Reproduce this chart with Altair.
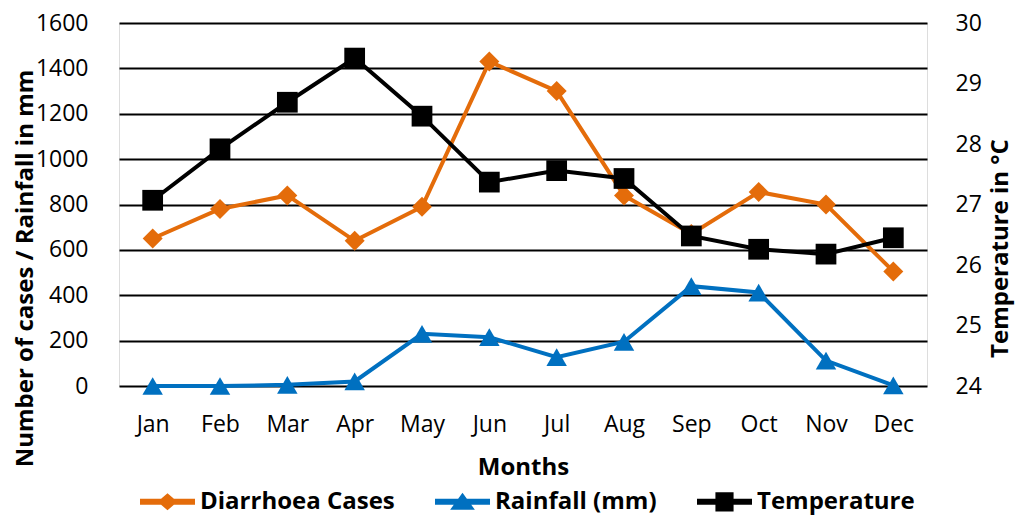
import altair as alt
import pandas as pd

months = ["Jan", "Feb", "Mar", "Apr", "May", "Jun", "Jul", "Aug", "Sep", "Oct", "Nov", "Dec"]
diarrhoea = [650, 780, 840, 640, 790, 1430, 1300, 840, 670, 855, 800, 505]
rainfall = [0, 0, 5, 20, 230, 215, 127, 195, 440, 412, 112, 3]
temperature = [27.07, 27.92, 28.69, 29.42, 28.46, 27.37, 27.56, 27.43, 26.48, 26.26, 26.18, 26.45]

series_names = ["Diarrhoea Cases", "Rainfall (mm)", "Temperature"]
series_colors = ["#E46C0A", "#0070C0", "#000000"]
left_ticks = [0, 200, 400, 600, 800, 1000, 1200, 1400, 1600]
right_ticks = [24, 25, 26, 27, 28, 29, 30]

# legend symbols: a line with the series marker on it
legend_paths = [
    "M-1,-0.11L1,-0.11L1,0.11L-1,0.11Z M0,-0.31L0.36,0L0,0.31L-0.36,0Z",
    "M-1,-0.11L1,-0.11L1,0.11L-1,0.11Z M0,-0.33L0.45,0.29L-0.45,0.29Z",
    "M-1,-0.11L1,-0.11L1,0.11L-1,0.11Z M-0.33,-0.35L0.33,-0.35L0.33,0.35L-0.33,0.35Z",
]

df_d = pd.DataFrame({"month": months, "value": diarrhoea})
df_r = pd.DataFrame({"month": months, "value": rainfall})
df_t = pd.DataFrame({"month": months, "temp": temperature})
df_leg = pd.DataFrame({"month": months[:3], "value": [0, 0, 0], "series": series_names})

FONT = "Open Sans"
TICK = 23
TITLE = 24

x_enc = alt.X(
    "month:O",
    sort=months,
    scale=alt.Scale(domain=months, padding=0.5),
    axis=alt.Axis(
        title="Months", labelAngle=0, ticks=False, domain=False, labelPadding=27,
        labelFontSize=TICK, labelColor="#000", titleFontSize=TITLE, titleFontWeight="bold",
        titleColor="#000", titlePadding=19, labelFont=FONT, titleFont=FONT,
    ),
)

y_left = alt.Y(
    "value:Q",
    scale=alt.Scale(domain=[0, 1600], nice=False, zero=True),
    axis=alt.Axis(
        values=left_ticks, format="d", title="Number of cases / Rainfall in mm", grid=True,
        gridColor="#000", gridWidth=1.8, domain=False, ticks=False, labelPadding=31,
        labelFontSize=TICK, labelColor="#000", titleFontSize=TITLE, titleFontWeight="bold",
        titleColor="#000", titleX=-87, titleY=245, titleBaseline="alphabetic",
        labelFont=FONT, titleFont=FONT,
    ),
)

y_right = alt.Y(
    "temp:Q",
    scale=alt.Scale(domain=[24, 30], nice=False, zero=False),
    axis=alt.Axis(
        orient="right", values=right_ticks, format="d", title="Temperature in °C", grid=False,
        domain=False, ticks=False, labelPadding=28, labelFontSize=TICK, labelColor="#000",
        titleFontSize=TITLE, titleFontWeight="bold", titleColor="#000", titleAngle=270,
        titleX=80, titleY=225, titleBaseline="alphabetic", labelFont=FONT, titleFont=FONT,
    ),
)

legend_def = alt.Legend(
    title=None, orient="none", legendX=21, legendY=451, direction="horizontal", columns=3,
    labelFontSize=24, labelFontWeight="bold", labelColor="#000", labelFont=FONT, labelLimit=400,
    symbolSize=3025, symbolStrokeWidth=0, labelOffset=5, columnPadding=40,
)

d_line = alt.Chart(df_d).mark_line(color=series_colors[0], strokeWidth=4).encode(x=x_enc, y=y_left)
d_pts = alt.Chart(df_d).mark_point(shape="diamond", filled=True, size=400, opacity=1,
                                   color=series_colors[0]).encode(x=x_enc, y=y_left)
r_line = alt.Chart(df_r).mark_line(color=series_colors[1], strokeWidth=4).encode(x=x_enc, y=y_left)
r_pts = alt.Chart(df_r).mark_point(shape="triangle-up", filled=True, size=420, opacity=1,
                                   color=series_colors[1]).encode(x=x_enc, y=y_left)
leg = alt.Chart(df_leg).transform_filter("false").mark_point(filled=True, opacity=1, strokeWidth=0).encode(
    x=x_enc, y=y_left,
    color=alt.Color("series:N", scale=alt.Scale(domain=series_names, range=series_colors), legend=legend_def),
    shape=alt.Shape("series:N", scale=alt.Scale(domain=series_names, range=legend_paths), legend=legend_def),
)

t_line = alt.Chart(df_t).mark_line(color=series_colors[2], strokeWidth=4).encode(x=x_enc, y=y_right)
t_pts = alt.Chart(df_t).mark_point(shape="square", filled=True, size=430, opacity=1,
                                   color=series_colors[2]).encode(x=x_enc, y=y_right)

left = alt.layer(d_line, d_pts, r_line, r_pts, leg)
right = alt.layer(t_line, t_pts)

chart = alt.layer(left, right).resolve_scale(y="independent").properties(
    width=808, height=363,
    autosize=alt.AutoSizeParams(type="none"),
    padding={"left": 111, "top": 15, "right": 88, "bottom": 130},
).configure_view(stroke=None).configure(font=FONT)

chart.save("out.html", embed_options={"renderer": "svg", "actions": False})
